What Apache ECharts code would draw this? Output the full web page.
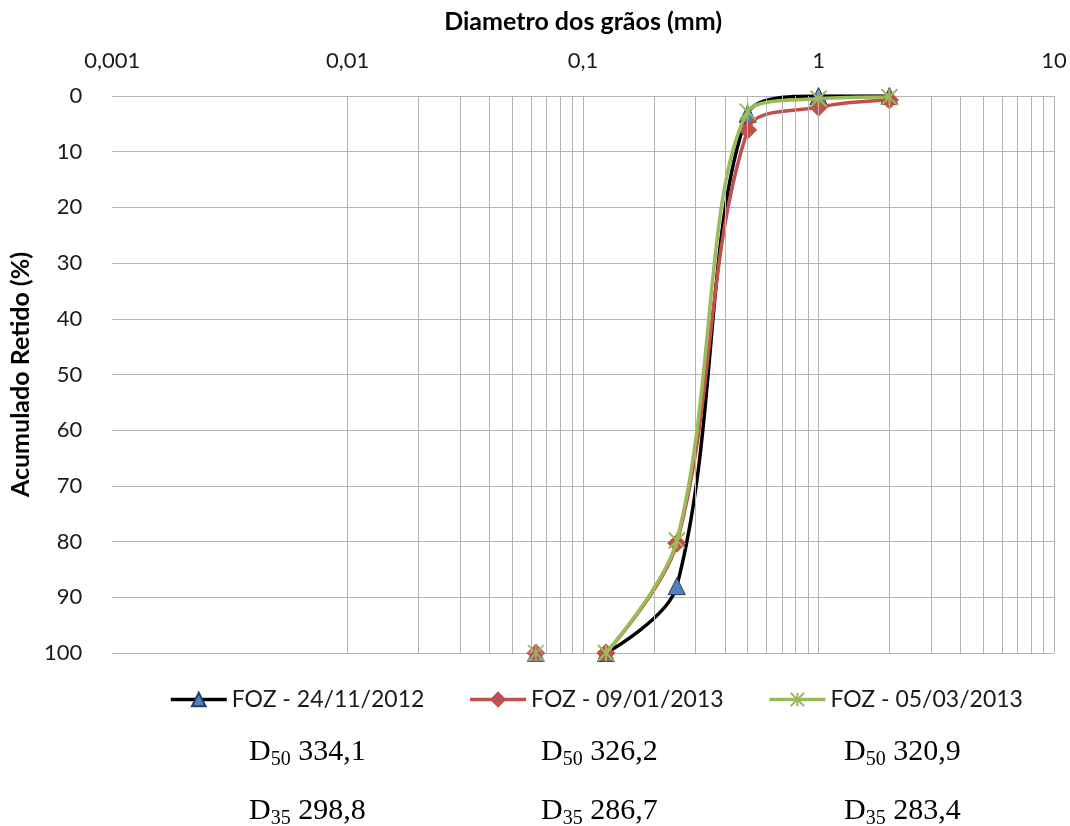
<!DOCTYPE html>
<html>
<head>
<meta charset="utf-8">
<script src="https://cdn.jsdelivr.net/npm/echarts@6/dist/echarts.min.js"></script>
<style>
  html, body { margin: 0; padding: 0; background: #fff; }
  #chart { width: 1070px; height: 826px; }
</style>
</head>
<body>
<div id="chart"></div>
<script>
// peneiras (mm) e % retido acumulado
const sieveSizes = [0.063, 0.125, 0.25, 0.5, 1, 2]
const foz20121124 = [100, 100, 88, 3.2, 0, 0]
const foz20130109 = [100, 100, 80.3, 6.1, 2.0, 0.7]
const foz20130305 = [100, 100, 79.8, 2.8, 0.5, 0.2]
const seriesNames = ['FOZ - 24/11/2012', 'FOZ - 09/01/2013', 'FOZ - 05/03/2013']
const xTickLabels = ['0,001', '0,01', '0,1', '1', '10']
const d50Values = ['334,1', '326,2', '320,9']
const d35Values = ['298,8', '286,7', '283,4']

const font = 'Lato, "Noto Sans", sans-serif'
const gridColor = '#b4b4b4'

// linhas verticais do papel log (1..9 de cada década)
const logGrid = []
for (let e = -3; e <= 0; e++) {
  for (let k = 1; k <= 9; k++) logGrid.push(k * Math.pow(10, e))
}
logGrid.push(10)

const pairs = (vals, from) => sieveSizes.map((s, i) => [s, vals[i]]).slice(from || 0)

const styles = [
  { color: '#000000', symbol: 'triangle', size: 17, fill: '#4f81bd', border: '#243f60', bw: 1 },
  { color: '#c0504d', symbol: 'diamond', size: 18, fill: '#c0504d', border: '#c0504d', bw: 1 },
  { color: '#9bbb59', symbol: 'path://M0,0L10,10M10,0L0,10M5,0L5,10', size: 16, fill: 'none', border: '#9bbb59', bw: 2 }
]
const allData = [foz20121124, foz20130109, foz20130305]

const series = [{
  name: 'grid', type: 'line', data: [], z: 1, silent: true,
  markLine: {
    silent: true, symbol: ['none', 'none'], animation: false,
    label: { show: false },
    lineStyle: { color: gridColor, width: 1, type: 'solid' },
    emphasis: { disabled: true },
    data: logGrid.map(v => ({ xAxis: v }))
  }
}]
// curvas suavizadas (a partir de 0,125 — o trecho até 0,063 fica fora do gráfico no original)
allData.forEach((vals, i) => {
  const st = styles[i]
  series.push({
    name: seriesNames[i], type: 'line', smooth: 0.35, data: pairs(vals, 1),
    symbol: st.symbol, symbolSize: st.size,
    lineStyle: { color: st.color, width: 3.5 },
    itemStyle: { color: st.fill, borderColor: st.border, borderWidth: st.bw },
    z: 3 + i
  })
})
// marcador do ponto 0,063
allData.forEach((vals, i) => {
  const st = styles[i]
  series.push({
    name: seriesNames[i], type: 'scatter', data: pairs(vals).slice(0, 1),
    symbol: st.symbol, symbolSize: st.size,
    itemStyle: { color: st.fill, borderColor: st.border, borderWidth: st.bw },
    z: 3 + i
  })
})

const serif = '"Liberation Serif", "Times New Roman", serif'
const dText = (sub, val, x, y) => ({
  type: 'text', x: x, y: y,
  style: {
    text: '{d|D}{s|' + sub + '}{d| ' + val + '}',
    verticalAlign: 'middle',
    rich: {
      d: { fontFamily: serif, fontSize: 30, lineHeight: 36, fill: '#000' },
      s: { fontFamily: serif, fontSize: 20, lineHeight: 20, verticalAlign: 'bottom', fill: '#000' }
    }
  }
})
const colX = [249, 541, 844]
const graphics = []
d50Values.forEach((v, i) => graphics.push(dText('50', v, colX[i], 752)))
d35Values.forEach((v, i) => graphics.push(dText('35', v, colX[i], 811)))

const chart = echarts.init(document.getElementById('chart'))
chart.setOption({
  animation: false,
  backgroundColor: '#fff',
  grid: { left: 106, top: 96, width: 948, height: 557 },
  xAxis: {
    type: 'log', logBase: 10, min: 0.001, max: 10, position: 'top',
    name: 'Diametro dos grãos (mm)', nameLocation: 'middle', nameGap: 62,
    nameTextStyle: { fontFamily: font, fontWeight: 'bold', fontSize: 25, color: '#000' },
    axisLine: { show: false }, axisTick: { show: false },
    splitLine: { show: false },
    axisLabel: {
      fontFamily: font, fontSize: 22, color: '#1a1a1a', margin: 24,
      formatter: v => xTickLabels[Math.round(Math.log10(v)) + 3]
    }
  },
  yAxis: {
    type: 'value', inverse: true, min: 0, max: 100, interval: 10,
    name: 'Acumulado Retido (%)', nameLocation: 'middle', nameGap: 70, nameRotate: 90,
    nameTextStyle: { fontFamily: font, fontWeight: 'bold', fontSize: 25, color: '#000' },
    axisLine: { show: false }, axisTick: { show: false },
    splitLine: { show: true, lineStyle: { color: gridColor, width: 1 } },
    axisLabel: { fontFamily: font, fontSize: 22, color: '#1a1a1a', margin: 30 }
  },
  legend: {
    data: seriesNames, left: 164, top: 683,
    itemWidth: 56, itemHeight: 17, itemGap: 44,
    lineStyle: { width: 3.5 },
    textStyle: { fontFamily: font, fontSize: 23, color: '#1a1a1a' }
  },
  series: series,
  graphic: graphics
})
</script>
</body>
</html>
